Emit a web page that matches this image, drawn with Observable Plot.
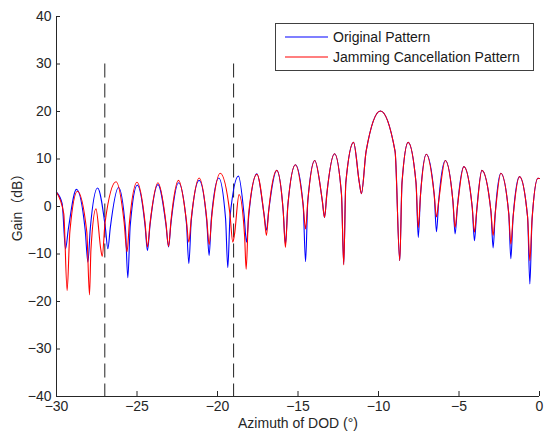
<!DOCTYPE html>
<html>
<head>
<meta charset="utf-8">
<script src="https://cdn.jsdelivr.net/npm/d3@7"></script>
<script src="https://cdn.jsdelivr.net/npm/@observablehq/plot@0.6"></script>
<style>
  body { margin: 0; background: #fff; font-family: "Liberation Sans", Arial, sans-serif; }
  #wrap { position: relative; width: 547px; height: 438px; }
  #legend { position: absolute; left: 275px; top: 23px; width: 259px; height: 48px; box-sizing: border-box;
            border: 1px solid #404040; background: #fff; font-size: 14px; color: #1a1a1a; }
  .sw { position: absolute; left: 9px; width: 43px; height: 4px; }
  .lbl { position: absolute; left: 57px; white-space: nowrap; line-height: 16px; }
  #ylabel { position: absolute; left: 16px; top: 204px; transform: translate(-50%, -50%) rotate(-90deg);
            white-space: nowrap; font-size: 14px; line-height: 16px; color: #262626;
            font-family: "Liberation Sans", "Noto Sans CJK SC", sans-serif; text-spacing-trim: space-all; }
  #ylabel .cjk { font-family: "Noto Sans CJK SC", sans-serif; display: inline-block; width: 1em; text-align: center; }
</style>
</head>
<body>
<div id="wrap"></div>
<script>
// ---- data ----
const xDomain = [-30, 0];
const yDomain = [-40, 40];
const xTicks = [-30, -25, -20, -15, -10, -5, 0];
const yTicks = [-40, -30, -20, -10, 0, 10, 20, 30, 40];
const jammerAz = [-27, -19];
const jammerTop = 30;
const seriesNames = ["Original Pattern", "Jamming Cancellation Pattern"];
const seriesColors = ["#0000ff", "#ff0000"];
const xLabel = "Azimuth of DOD (°)";
const yLabel = "Gain（dB）";

const originalAz = [
  -30, -29.65, -29.44, -29.27, -28.76, -28.22, -28.05, -27.90, -27.45, -26.96,
  -26.81, -26.66, -26.15, -25.72, -25.57, -25.42, -24.98, -24.50, -24.35, -24.19,
  -23.70, -23.20, -23.04, -22.89, -22.42, -21.93, -21.78, -21.63, -21.14, -20.67,
  -20.52, -20.38, -19.92, -19.50, -19.36, -19.22, -18.70, -18.34, -18.20, -18.05,
  -17.55, -17.11, -16.96, -16.82, -16.32, -15.92, -15.78, -15.63, -15.16, -14.68,
  -14.53, -14.39, -13.96, -13.49, -13.35, -13.21, -12.73, -12.30, -12.16, -12.03,
  -11.55, -11.19, -11.06, -10.77, -9.88, -8.97, -8.68, -8.54, -8.16, -7.67,
  -7.53, -7.39, -7.03, -6.54, -6.40, -6.26, -5.85, -5.38, -5.24, -5.10,
  -4.70, -4.18, -4.04, -3.90, -3.58, -3.02, -2.88, -2.75, -2.40, -1.91,
  -1.78, -1.64, -1.24, -0.74, -0.60, -0.46, -0.10, 0
];
const originalGain = [
  3.0, 0.6, -8.9, -4.9, 3.6, -4.9, -11.7, -4.6, 3.9, -4.6,
  -8.9, -4.5, 4.0, -4.5, -15.0, -4.0, 4.5, -4.0, -9.3, -3.9,
  4.6, -3.9, -8.5, -3.5, 5.0, -3.5, -12.0, -3.0, 5.5, -3.0,
  -10.3, -2.5, 6.0, -2.5, -12.9, -2.1, 6.4, -2.1, -7.5, -1.6,
  6.9, -1.6, -5.0, -0.9, 7.6, -0.9, -8.0, 0.3, 8.8, 0.3,
  -11.6, 1.2, 9.7, 1.2, -2.3, 2.6, 11.1, 2.6, -12.1, 5.0,
  13.5, 5.0, 2.7, 11.6, 20.1, 11.6, -11.4, 5.0, 13.5, 5.0,
  -6.5, 2.5, 11.0, 2.5, -5.3, 1.2, 9.7, 1.2, -5.8, -0.1,
  8.4, -0.1, -7.2, -0.9, 7.6, -0.9, -8.7, -1.5, 7.0, -1.5,
  -11.0, -2.2, 6.3, -2.2, -16.3, -2.6, 5.95, 5.9
];

const cancelAz = [
  -30, -29.55, -29.34, -29.17, -28.70, -28.12, -27.95, -27.86, -27.55, -27.25,
  -27.16, -26.98, -26.30, -25.80, -25.62, -25.47, -25.00, -24.50, -24.35, -24.19,
  -23.70, -23.20, -23.04, -22.89, -22.42, -21.93, -21.78, -21.63, -21.14, -20.67,
  -20.52, -20.34, -19.83, -19.23, -19.05, -18.95, -18.66, -18.32, -18.22, -18.07,
  -17.55, -17.11, -16.96, -16.82, -16.32, -15.92, -15.78, -15.63, -15.16, -14.68,
  -14.53, -14.39, -13.96, -13.49, -13.35, -13.21, -12.73, -12.30, -12.16, -12.03,
  -11.55, -11.19, -11.06, -10.77, -9.88, -8.97, -8.68, -8.54, -8.16, -7.67,
  -7.53, -7.39, -7.03, -6.54, -6.40, -6.26, -5.85, -5.38, -5.24, -5.10,
  -4.70, -4.18, -4.04, -3.90, -3.58, -3.02, -2.88, -2.75, -2.40, -1.91,
  -1.78, -1.64, -1.24, -0.74, -0.60, -0.46, -0.10, 0
];
const cancelGain = [
  3.0, -1.5, -17.7, -5.3, 3.2, -5.3, -18.6, -9.0, -0.5, -9.0,
  -10.5, -3.3, 5.2, -3.3, -9.5, -3.4, 5.1, -3.4, -8.5, -3.5,
  5.0, -3.5, -8.4, -3.0, 5.5, -3.0, -7.5, -2.5, 6.0, -2.5,
  -8.0, -1.5, 7.0, -1.5, -7.5, -6.0, 2.5, -6.0, -13.2, -1.7,
  6.8, -1.7, -6.1, -0.9, 7.6, -0.9, -8.6, 0.3, 8.8, 0.3,
  -4.7, 1.2, 9.7, 1.2, -2.3, 2.6, 11.1, 2.6, -12.3, 5.0,
  13.5, 5.0, 2.7, 11.6, 20.1, 11.6, -11.4, 5.0, 13.5, 5.0,
  -4.4, 2.5, 11.0, 2.5, -2.2, 1.2, 9.7, 1.2, -4.4, -0.1,
  8.4, -0.1, -5.4, -0.9, 7.6, -0.9, -6.1, -1.5, 7.0, -1.5,
  -7.9, -2.2, 6.3, -2.2, -11.4, -2.6, 5.95, 5.9
];

// ---- build tables ----
const original = originalAz.map((x, i) => ({x, y: originalGain[i]}));
const cancel = cancelAz.map((x, i) => ({x, y: cancelGain[i]}));

const axisColor = "#262626";

const chart = Plot.plot({
  width: 547,
  height: 438,
  marginLeft: 56,
  marginRight: 8,
  marginTop: 16,
  marginBottom: 42,
  style: {background: "#fff", color: axisColor, fontSize: "14px", fontFamily: "'Liberation Sans', Arial, sans-serif", overflow: "visible"},
  x: {domain: xDomain},
  y: {domain: yDomain},
  marks: [
    Plot.ruleX(jammerAz, {y1: jammerTop, y2: yDomain[0], stroke: "#222", strokeWidth: 1, strokeDasharray: "14,6"}),
    Plot.line(original, {x: "x", y: "y", stroke: seriesColors[0], strokeWidth: 1.1, curve: "monotone-x"}),
    Plot.line(cancel, {x: "x", y: "y", stroke: seriesColors[1], strokeWidth: 1.1, curve: "monotone-x"}),
    Plot.ruleY([yDomain[0]], {stroke: axisColor}),
    Plot.ruleX([xDomain[0]], {stroke: axisColor}),
    Plot.axisX(xTicks, {tickSize: -5, tickPadding: 10, label: null, fontSize: 14}),
    Plot.axisY(yTicks, {tickSize: -4, tickPadding: 9, label: null, fontSize: 14}),
    Plot.text([xLabel], {text: d => d, frameAnchor: "bottom", dy: 31, fontSize: 14, fill: axisColor})
  ]
});

const wrap = document.getElementById("wrap");
wrap.appendChild(chart);

// y-axis title as HTML (full-width brackets kept at full width)
const yl = document.createElement("div");
yl.id = "ylabel";
// split so that full-width brackets get the CJK font at full em width
const parts = yLabel.match(/[（）]|[^（）]+/g);
parts.forEach(p => {
  const s = document.createElement("span");
  if (p === "（" || p === "）") s.className = "cjk";
  s.textContent = p;
  yl.appendChild(s);
});
wrap.appendChild(yl);

// legend (HTML overlay, inside plot area like the reference)
const NS = "http://www.w3.org/2000/svg";
const legend = document.createElement("div");
legend.id = "legend";
seriesNames.forEach((name, i) => {
  const cy = 13 + i * 20;
  const sw = document.createElementNS(NS, "svg");
  sw.setAttribute("class", "sw");
  sw.setAttribute("width", 43);
  sw.setAttribute("height", 4);
  sw.style.top = (cy - 2) + "px";
  const ln = document.createElementNS(NS, "line");
  ln.setAttribute("x1", 0); ln.setAttribute("x2", 43);
  ln.setAttribute("y1", 2); ln.setAttribute("y2", 2);
  ln.setAttribute("stroke", seriesColors[i]);
  ln.setAttribute("stroke-width", 1.2);
  sw.appendChild(ln);
  const lb = document.createElement("div");
  lb.className = "lbl";
  lb.style.top = (cy - 8) + "px";
  lb.textContent = name;
  legend.appendChild(sw);
  legend.appendChild(lb);
});
wrap.appendChild(legend);
</script>
</body>
</html>
